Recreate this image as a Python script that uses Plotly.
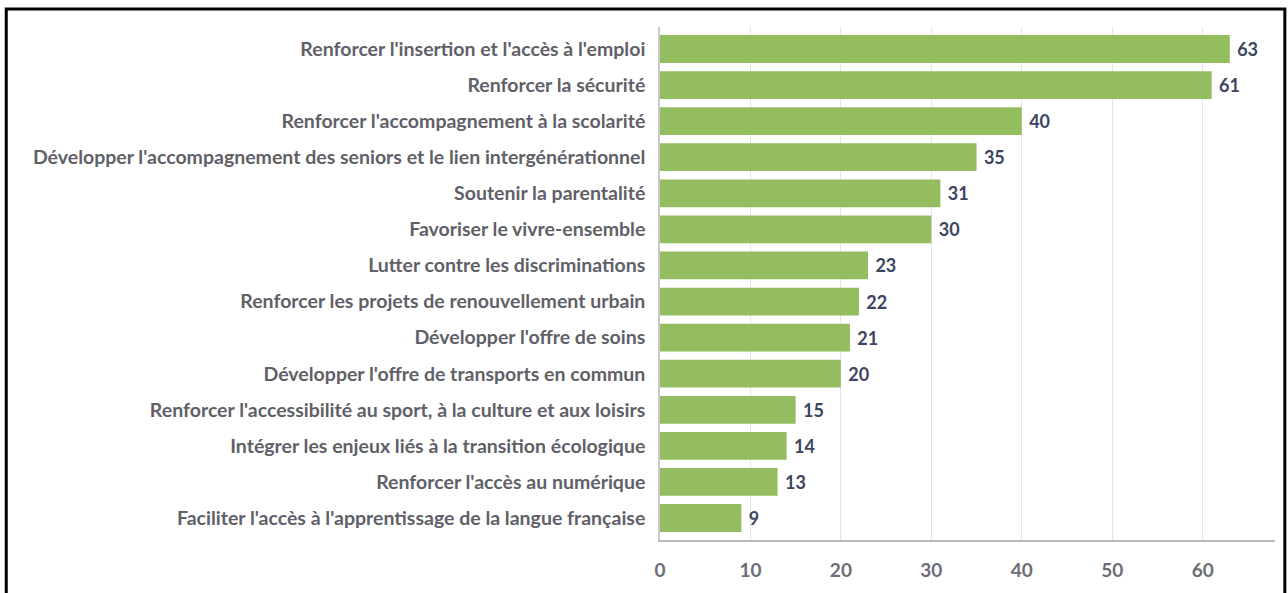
import plotly.graph_objects as go

# Categories (top to bottom) and their counts
categories = [
    "Renforcer l'insertion et l'accès à l'emploi",
    "Renforcer la sécurité",
    "Renforcer l'accompagnement à la scolarité",
    "Développer l'accompagnement des seniors et le lien intergénérationnel",
    "Soutenir la parentalité",
    "Favoriser le vivre-ensemble",
    "Lutter contre les discriminations",
    "Renforcer les projets de renouvellement urbain",
    "Développer l'offre de soins",
    "Développer l'offre de transports en commun",
    "Renforcer l'accessibilité au sport, à la culture et aux loisirs",
    "Intégrer les enjeux liés à la transition écologique",
    "Renforcer l'accès au numérique",
    "Faciliter l'accès à l'apprentissage de la langue française",
]
values = [63, 61, 40, 35, 31, 30, 23, 22, 21, 20, 15, 14, 13, 9]
x_ticks = [0, 10, 20, 30, 40, 50, 60]

fig = go.Figure(go.Bar(
    x=values,
    y=categories,
    orientation="h",
    marker=dict(color="#93bd5f", line=dict(width=0)),
    text=["\u00a0" + str(v) for v in values],
    textposition="outside",
    cliponaxis=False,
    textfont=dict(family="Lato", size=18, color="#3d4461", weight="bold"),
))

fig.update_layout(
    width=1288,
    height=593,
    plot_bgcolor="white",
    paper_bgcolor="white",
    margin=dict(l=660, r=13, t=27, b=50),
    bargap=0.23,
    showlegend=False,
    font=dict(family="Lato", size=16, color="#5f6068"),
)

fig.update_xaxes(
    range=[0, 68],
    tickvals=x_ticks,
    showgrid=True,
    gridcolor="#e5e5e8",
    gridwidth=1,
    zeroline=False,
    showline=True,
    linecolor="#b8bac2",
    linewidth=1.5,
    ticks="",
    ticklabelstandoff=12,
    tickfont=dict(family="Lato", size=19, color="#6b6c74", weight="bold"),
)
fig.update_yaxes(
    range=[len(categories) - 1 + 0.61, -0.61],
    showline=True,
    linecolor="#c8cad0",
    linewidth=1.5,
    ticks="",
    ticklabelstandoff=9,
    tickfont=dict(family="Lato", size=19.5, color="#5f6068", weight="bold"),
)

# black frame around the screenshot
fig.add_shape(
    type="rect", xref="paper", yref="paper",
    x0=-1.063, x1=1.016, y0=-0.3, y1=1.035,
    line=dict(color="black", width=3),
    layer="above",
)

fig.write_html("out.html", config={"displayModeBar": False},
               post_script="document.body.style.margin='0';")
